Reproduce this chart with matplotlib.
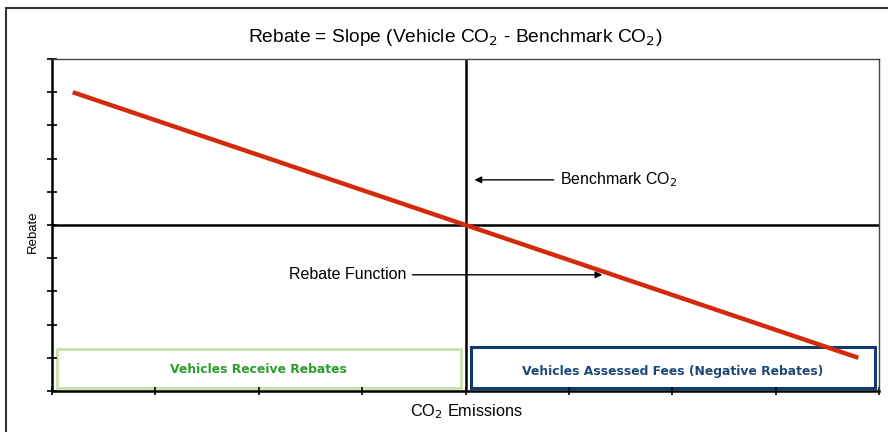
import matplotlib
matplotlib.use("Agg")
import matplotlib.pyplot as plt
from matplotlib.patches import Rectangle

plt.rcParams['font.family'] = ['Liberation Sans', 'DejaVu Sans']

# data
line_x = [0.2, 7.8]
line_y = [4.0, -4.0]
benchmark_x = 4.0
x_ticks = [0, 1, 2, 3, 4, 5, 6, 7, 8]
y_ticks = [-5, -4, -3, -2, -1, 0, 1, 2, 3, 4, 5]
title = "Rebate = Slope (Vehicle CO$_2$ - Benchmark CO$_2$)"
xlabel = "CO$_2$ Emissions"
ylabel = "Rebate"
box_left_label = "Vehicles Receive Rebates"
box_right_label = "Vehicles Assessed Fees (Negative Rebates)"

fig = plt.figure(figsize=(8.88, 4.32), dpi=100)
# outer frame
fig.patches.append(Rectangle((6/888, -0.05), 1.0, 1 - 8/432 + 0.05, transform=fig.transFigure,
                             fill=False, edgecolor='#333333', linewidth=1.5))
ax = fig.add_axes([52/888, 41/432, (879-52)/888, (391-59)/432])
ax.set_xlim(0, 8)
ax.set_ylim(-5, 5)

for s in ['top', 'right']:
    ax.spines[s].set_color('#444444')
    ax.spines[s].set_linewidth(1.0)
for s in ['left', 'bottom']:
    ax.spines[s].set_color('black')
    ax.spines[s].set_linewidth(1.8)

ax.set_xticks(x_ticks)
ax.set_yticks(y_ticks)
ax.set_xticklabels([])
ax.set_yticklabels([])
ax.tick_params(axis='y', direction='inout', length=7, width=1.2, color='black')
ax.tick_params(axis='x', direction='inout', length=6, width=1.2, color='black')

ax.axhline(0, color='black', linewidth=1.8, zorder=2)
ax.axvline(benchmark_x, color='black', linewidth=1.8, zorder=2)

ax.plot(line_x, line_y, color='#d42a0c', linewidth=3.2, solid_capstyle='butt', zorder=3)

# boxes
ax.add_patch(Rectangle((0.05, -4.91), 3.91, 1.18, fill=False, edgecolor='#c9e0a8',
                       linewidth=2.0, zorder=1))
ax.text(2.0, -4.35, box_left_label, ha='center', va='center', color='#2a9d2a',
        fontsize=8.9, fontweight='bold', family=['DejaVu Sans'])
ax.add_patch(Rectangle((4.05, -4.91), 3.91, 1.24, fill=False, edgecolor='#0e3d6b',
                       linewidth=2.2, zorder=1))
ax.text(6.0, -4.4, box_right_label, ha='center', va='center', color='#1d4877',
        fontsize=8.9, fontweight='bold', family=['DejaVu Sans'])

# annotations
ax.annotate("", xy=(4.06, 1.36), xytext=(4.88, 1.36),
            arrowprops=dict(arrowstyle='-|>', color='black', lw=1.0, mutation_scale=10))
ax.text(4.91, 1.36, "Benchmark CO$_2$", ha='left', va='center', fontsize=11.5)
ax.annotate("", xy=(5.35, -1.5), xytext=(3.46, -1.5),
            arrowprops=dict(arrowstyle='-|>', color='black', lw=1.0, mutation_scale=10))
ax.text(3.43, -1.5, "Rebate Function", ha='right', va='center', fontsize=11.5)

fig.text(455/888, 1 - 38/432, title, ha='center', va='center', fontsize=13.8)
fig.text(466/888, 1 - 412/432, xlabel, ha='center', va='center', fontsize=11.8)
fig.text(33/888, 1 - 232/432, ylabel, ha='center', va='center', rotation=90, fontsize=9.5)

fig.savefig("out.png", dpi=100)
